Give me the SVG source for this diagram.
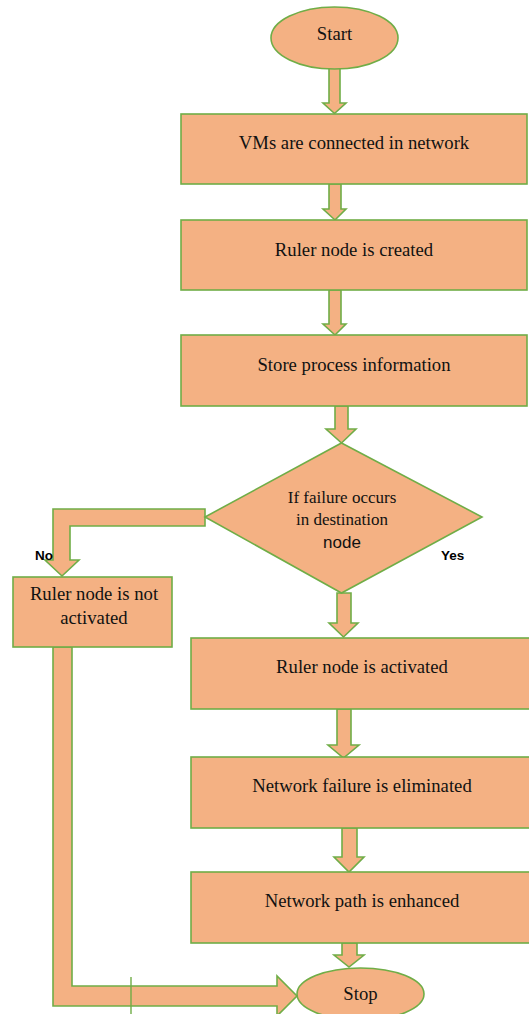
<svg xmlns="http://www.w3.org/2000/svg" width="529" height="1014" viewBox="0 0 529 1014">
  <style>
    .shape { fill: #F4B183; stroke: #70AD47; stroke-width: 1.6; }
    .label { font-family: "Liberation Serif", "Times New Roman", serif; font-size: 18.7px; fill: #111; text-anchor: middle; }
    .dlabel { font-family: "Liberation Serif", "Times New Roman", serif; font-size: 17px; fill: #111; text-anchor: middle; }
    .sans { font-family: "Liberation Sans", Arial, sans-serif; font-size: 17px; fill: #111; text-anchor: middle; }
    .branch { font-family: "Liberation Sans", Arial, sans-serif; font-size: 13.5px; font-weight: bold; fill: #000; }
  </style>

  <g id="connectors">
    <polygon class="shape" points="329,68 340,68 340,103 346,103 334.5,113.5 323,103 329,103"/>
    <polygon class="shape" points="329,184 341,184 341,209 346,209 335,220 323,209 329,209"/>
    <polygon class="shape" points="329,290 341,290 341,324 346,324 335,335 323,324 329,324"/>
    <polygon class="shape" points="335,406 348,406 348,429 356,429 341.5,443 326,429 335,429"/>
    <polygon class="shape" points="337,593 351,593 351,623 358,623 343.5,637 329,623 337,623"/>
    <polygon class="shape" points="337,709 351,709 351,745 359,745 343.5,758 328,745 337,745"/>
    <polygon class="shape" points="342,828 357,828 357,857 364,857 349,872 334,857 342,857"/>
    <polygon class="shape" points="342,943 357,943 357,955 364,955 349,967 334,955 342,955"/>
    <!-- "No" branch: left out of the decision, then down -->
    <polygon class="shape" points="205,509 53,509 53,560 45,560 62,576 79,560 70,560 70,526 205,526"/>
    <!-- return path from the left box down and across to Stop -->
    <polygon class="shape" points="53,647 72,647 72,986 277,986 277,976 297,996 277,1016 277,1006 53,1006"/>
    <line x1="131" y1="977" x2="131" y2="1014" stroke="#70AD47" stroke-width="1.4"/>
  </g>

  <g id="start">
    <ellipse class="shape" cx="334.5" cy="38" rx="63.5" ry="31"/>
    <text class="label" x="334.5" y="40">Start</text>
  </g>

  <g id="vms-connected">
    <rect class="shape" x="181" y="114" width="346" height="70"/>
    <text class="label" x="354" y="149">VMs are connected in network</text>
  </g>

  <g id="ruler-created">
    <rect class="shape" x="181" y="220" width="346" height="70"/>
    <text class="label" x="354" y="256">Ruler node is created</text>
  </g>

  <g id="store-info">
    <rect class="shape" x="181" y="335" width="346" height="71"/>
    <text class="label" x="354" y="371">Store process information</text>
  </g>

  <g id="decision">
    <polygon class="shape" points="341.5,443 482,517 341.5,593 205,517"/>
    <text class="dlabel" x="342" y="503">If failure occurs</text>
    <text class="dlabel" x="342" y="525">in destination</text>
    <text class="sans" x="342" y="548">node</text>
  </g>

  <text class="branch" x="35" y="560">No</text>
  <text class="branch" x="441" y="560">Yes</text>

  <g id="ruler-not-activated">
    <rect class="shape" x="13" y="577" width="159" height="70"/>
    <text class="label" x="94" y="600">Ruler node is not</text>
    <text class="label" x="94" y="624">activated</text>
  </g>

  <g id="ruler-activated">
    <rect class="shape" x="191" y="638" width="340" height="71"/>
    <text class="label" x="362" y="673">Ruler node is activated</text>
  </g>

  <g id="failure-eliminated">
    <rect class="shape" x="191" y="757" width="340" height="71"/>
    <text class="label" x="362" y="792">Network failure is eliminated</text>
  </g>

  <g id="path-enhanced">
    <rect class="shape" x="191" y="872" width="340" height="71"/>
    <text class="label" x="362" y="907">Network path is enhanced</text>
  </g>

  <g id="stop">
    <ellipse class="shape" cx="360.5" cy="994" rx="63.5" ry="26"/>
    <text class="label" x="360.5" y="1000">Stop</text>
  </g>
</svg>
